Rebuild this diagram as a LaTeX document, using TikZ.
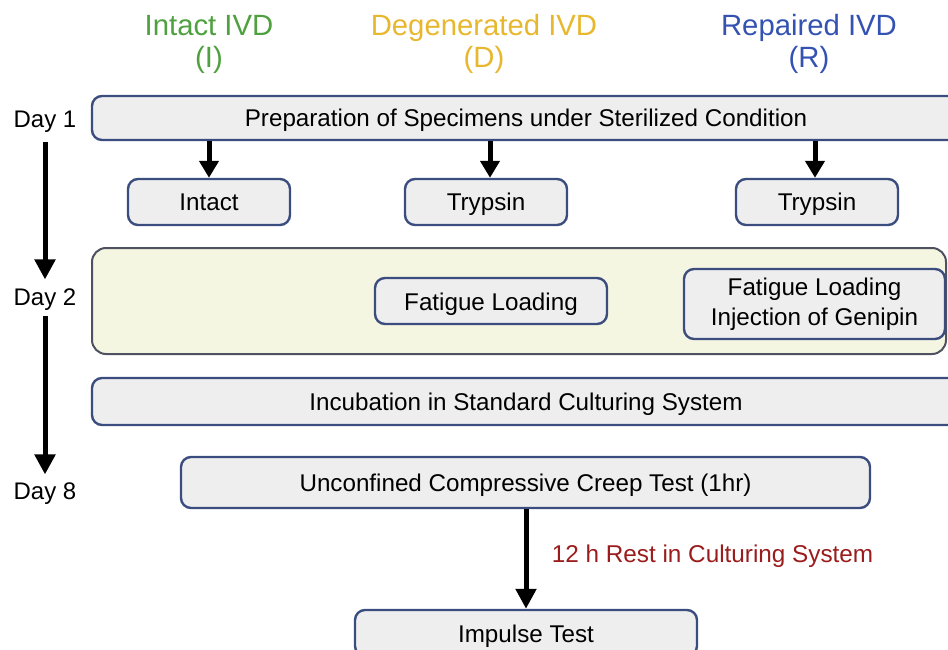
\documentclass[tikz,border=0pt]{standalone}
\usepackage{fontspec}
\setmainfont{Liberation Sans}
\usetikzlibrary{arrows.meta}

\definecolor{boxfill}{HTML}{EEEEEF}
\definecolor{boxline}{HTML}{3B4D7E}
\definecolor{panelfill}{HTML}{F4F6E2}
\definecolor{panelline}{HTML}{4E5160}
\definecolor{intactgreen}{HTML}{4EA13E}
\definecolor{degenyellow}{HTML}{E7B72E}
\definecolor{repairblue}{HTML}{3452B2}
\definecolor{restred}{HTML}{9A1C1C}

\tikzset{
  stagebox/.style={draw=boxline, line width=2.4pt, fill=boxfill, rounded corners=10pt,
    inner sep=0pt, align=center, font=\fontsize{24.2}{30}\selectfont,
    text height=19pt, text depth=1pt},
  twoline/.style={text height=, text depth=},
  header/.style={align=center, font=\fontsize{29.3}{32}\selectfont},
  daylabel/.style={font=\fontsize{24}{28}\selectfont, text height=18pt, text depth=2pt},
  flow/.style={line width=5pt, -{Triangle[width=20pt,length=20pt]}},
  smallflow/.style={line width=5pt, -{Triangle[width=19pt,length=17pt]}},
}

\begin{document}
\begin{tikzpicture}[x=1pt,y=-1pt]
\useasboundingbox (0,0) rectangle (948,650);
\clip (0,0) rectangle (948,650);

% column headers
\node[header, text=intactgreen] (hI) at (209,44) {Intact IVD\\(I)};
\node[header, text=degenyellow] (hD) at (484,44) {Degenerated IVD\\(D)};
\node[header, text=repairblue]  (hR) at (809,44) {Repaired IVD\\(R)};

% day 1
\node[stagebox, minimum width=868pt, minimum height=44pt] (prep) at (526,118)
  {Preparation of Specimens under Sterilized Condition};
\node[stagebox, minimum width=162pt, minimum height=46pt] (intact) at (209,202) {Intact};
\node[stagebox, minimum width=162pt, minimum height=46pt] (tryD) at (486,202) {Trypsin};
\node[stagebox, minimum width=162pt, minimum height=46pt] (tryR) at (817,202) {Trypsin};

\draw[smallflow] (prep.south -| 209,0) -- (intact.north -| 209,0);
\draw[smallflow] (prep.south -| 490,0) -- (tryD.north -| 490,0);
\draw[smallflow] (prep.south -| 815,0) -- (tryR.north -| 815,0);

% day 2 loading panel
\node[draw=panelline, line width=2pt, fill=panelfill, rounded corners=14pt,
  minimum width=854pt, minimum height=106pt, inner sep=0pt] (panel) at (519,301) {};
\node[stagebox, minimum width=232pt, minimum height=46pt] (fatD) at (491,301) {Fatigue Loading};
\node[stagebox, twoline, minimum width=261pt, minimum height=70pt] (fatR) at (814.5,304)
  {Fatigue Loading\\Injection of Genipin};

% incubation
\node[stagebox, minimum width=868pt, minimum height=47pt] (incub) at (526,401.5)
  {Incubation in Standard Culturing System};

% day 8 tests
\node[stagebox, minimum width=689pt, minimum height=51pt] (creep) at (525.5,482.5)
  {Unconfined Compressive Creep Test (1hr)};
\node[stagebox, minimum width=342pt, minimum height=46pt] (impulse) at (526,633)
  {Impulse Test};
\draw[flow] (creep.south -| 526,0) -- (impulse.north -| 526,0)
  node[pos=0.47, right=20pt, text=restred, font=\fontsize{24.3}{28}\selectfont]
  {12 h Rest in Culturing System};

% timeline
\node[daylabel] (d1) at (45,120) {Day 1};
\node[daylabel] (d2) at (45,297) {Day 2};
\node[daylabel] (d8) at (45,491) {Day 8};
\draw[flow] ([yshift=-8pt]d1.south) -- ([yshift=4pt]d2.north);
\draw[flow] ([yshift=-5pt]d2.south) -- ([yshift=3pt]d8.north);
\end{tikzpicture}
\end{document}
